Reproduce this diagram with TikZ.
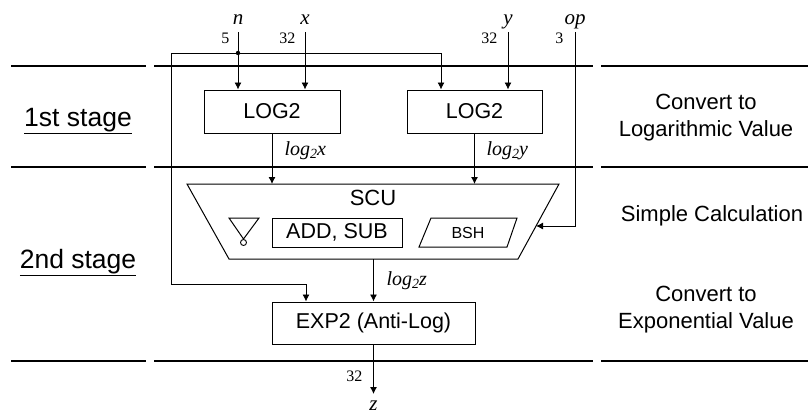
\documentclass[tikz,border=0pt]{standalone}
\usepackage{fontspec}
\setmainfont{Liberation Sans}
\newfontfamily\tms{Liberation Serif}
\usetikzlibrary{arrows.meta}
\newcommand{\sig}[1]{{\tms\itshape\fontsize{21}{21}\selectfont #1}}
\newcommand{\logtwo}[1]{{\tms\itshape\fontsize{20}{20}\selectfont log\raisebox{-0.35ex}{\fontsize{14}{14}\selectfont 2}#1}}

\begin{document}
\begin{tikzpicture}[x=1pt, y=-1pt, >={Latex[length=7pt,width=7pt]},
    blk/.style={draw, line width=1pt, inner sep=0pt, font=\fontsize{21.5}{24}\selectfont},
    wire/.style={line width=0.9pt},
    stage/.style={line width=2.6pt},
    note/.style={align=center, font=\fontsize{22}{27}\selectfont},
    bits/.style={anchor=base east, font=\tms\fontsize{16}{16}\selectfont}]
    \useasboundingbox (0,0) rectangle (808,415);

    % 1. Stage separators
    \foreach \yy in {66,167,361} {
        \draw[stage] (11,\yy) -- (146,\yy);
        \draw[stage] (154,\yy) -- (593,\yy);
        \draw[stage] (601,\yy) -- (808,\yy);
    }

    % 2. Stage names and descriptions
    \node[anchor=base, font=\fontsize{26.5}{30}\selectfont] (st1) at (78,126) {\underline{1st stage}};
    \node[anchor=base, font=\fontsize{26.5}{30}\selectfont] (st2) at (78,268) {\underline{2nd stage}};
    \node[note] (dlog) at (706,118) {Convert to\\Logarithmic Value};
    \node[note, anchor=base] (dscu) at (712,221) {Simple Calculation};
    \node[note] (dexp) at (706,310) {Convert to\\Exponential Value};

    % 3. Blocks
    \node[blk, minimum width=136pt, minimum height=43pt] (logx) at (272,111.5) {LOG2};
    \node[blk, minimum width=135pt, minimum height=43pt] (logy) at (474.5,111.5) {LOG2};
    \node[blk, minimum width=203pt, minimum height=42pt] (exptwo) at (373.5,323) {EXP2 (Anti-Log)};

    % 4. SCU trapezoid with its parts
    \coordinate (sTL) at (187,184);
    \coordinate (sTR) at (559,184);
    \coordinate (sBR) at (518,259);
    \coordinate (sBL) at (229,259);
    \draw[line width=1pt] (sTL) -- (sTR) -- (sBR) -- (sBL) -- cycle;
    \node[font=\fontsize{22}{24}\selectfont] (scu) at (373,198) {SCU};
    \node[blk, minimum width=130pt, minimum height=29pt] (addsub) at (337,232.5) {ADD, SUB};
    \draw[line width=1pt] (229,218) -- (259,218) -- (243.5,239) -- cycle;
    \draw[line width=0.9pt] (243.5,242.5) circle (3);
    \draw[line width=1pt] (431,218) -- (517,218) -- (507,247) -- (419,247) -- cycle;
    \node[font=\fontsize{16}{18}\selectfont] (bsh) at (468,232.5) {BSH};

    % 5. Inputs
    \node[anchor=base] (inN) at (238,24) {\sig{n}};
    \node[anchor=base] (inX) at (305,24) {\sig{x}};
    \node[anchor=base] (inY) at (508,24) {\sig{y}};
    \node[anchor=base] (inOp) at (575,24) {\sig{op}};
    \node[bits] (bN) at (233,43) {5};
    \node[bits] (bX) at (299,43) {32};
    \node[bits] (bY) at (501,43) {32};
    \node[bits] (bOp) at (567,43) {3};
    \coordinate (nTop) at (238,32);
    \coordinate (xTop) at (305,32);
    \coordinate (yTop) at (508,32);
    \coordinate (opTop) at (575,32);

    % 6. Wires of the first stage
    \coordinate (nj) at (238,53);
    \coordinate (nL) at (171,53);
    \coordinate (nR) at (441,53);
    \coordinate (nDrop) at (306,284);
    \draw[wire,->] (nTop) -- (logx.north -| nTop);
    \draw[wire,->] (xTop) -- (logx.north -| xTop);
    \draw[wire,->] (yTop) -- (logy.north -| yTop);
    \draw[wire] (nL) -- (nR);
    \fill (nj) circle (2.2);
    \draw[wire,->] (nR) -- (logy.north -| nR);
    \draw[wire,->] (nL) |- (nDrop) -- (exptwo.north -| nDrop);

    % 7. Wires into and out of SCU
    \draw[wire,->] (logx.south) -- (logx.south |- sTL);
    \draw[wire,->] (logy.south) -- (logy.south |- sTL);
    \node[anchor=base west] (lx) at (281,155) {\logtwo{x}};
    \node[anchor=base west] (ly) at (483,155) {\logtwo{y}};
    \coordinate (opBend) at (575,226);
    \coordinate (opIn) at (536,226);
    \draw[wire,->] (opTop) -- (opBend) -- (opIn);
    \draw[wire,->] (exptwo.north |- sBL) -- (exptwo.north);
    \node[anchor=base west] (lz) at (383,285) {\logtwo{z}};

    % 8. Output
    \coordinate (zEnd) at (373.5,394);
    \draw[wire,->] (exptwo.south) -- (zEnd);
    \node[bits] (bZ) at (366,381) {32};
    \node[anchor=base] (outZ) at (373.5,410) {\sig{z}};

\end{tikzpicture}
\end{document}
